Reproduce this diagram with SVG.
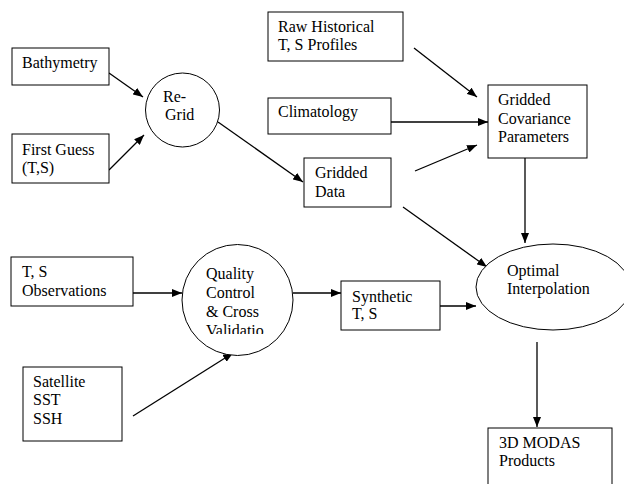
<svg xmlns="http://www.w3.org/2000/svg" width="624" height="484" viewBox="0 0 624 484">
<defs>
<style>
.box{fill:#fff;stroke:#000;stroke-width:1}
.c{stroke:#000;stroke-width:1.3;fill:none;marker-end:url(#ah)}
.t{font-family:"Liberation Serif","Times New Roman",serif;font-size:16px;fill:#000}
</style>
<marker id="ah" viewBox="0 0 10 8" refX="10" refY="4" markerWidth="10" markerHeight="8" markerUnits="userSpaceOnUse" orient="auto">
<path d="M0,0 L10,4 L0,8 Z" fill="#000"/>
</marker>
<clipPath id="qcclip"><rect x="150" y="240" width="200" height="94"/></clipPath>
</defs>
<rect width="624" height="484" fill="#fff"/>
<g id="connectors">
<line class="c" x1="109" y1="73" x2="143" y2="97"/>
<line class="c" x1="109" y1="170" x2="144" y2="135"/>
<line class="c" x1="218" y1="122" x2="303" y2="182"/>
<line class="c" x1="414" y1="48" x2="477" y2="97"/>
<line class="c" x1="391" y1="122" x2="488" y2="122"/>
<line class="c" x1="415" y1="171" x2="477" y2="145"/>
<line class="c" x1="525" y1="158" x2="525" y2="243"/>
<line class="c" x1="403" y1="207" x2="487" y2="267"/>
<line class="c" x1="133" y1="293" x2="182" y2="293"/>
<line class="c" x1="293" y1="293" x2="341" y2="293"/>
<line class="c" x1="133" y1="416" x2="233" y2="353"/>
<line class="c" x1="440" y1="306" x2="476" y2="306"/>
<line class="c" x1="537" y1="342" x2="537" y2="427"/>
</g>
<g id="bathymetry"><rect class="box" x="12" y="48" width="97" height="37"/><text class="t" x="22" y="68">Bathymetry</text></g>
<g id="first-guess"><rect class="box" x="12" y="134" width="97" height="49"/><text class="t" x="22" y="155">First Guess</text><text class="t" x="22" y="173">(T,S)</text></g>
<g id="regrid"><circle class="box" cx="182.5" cy="110" r="37"/><text class="t" x="163" y="102">Re-</text><text class="t" x="165" y="120">Grid</text></g>
<g id="raw-historical"><rect class="box" x="268" y="12" width="135" height="49"/><text class="t" x="278" y="32">Raw Historical</text><text class="t" x="278" y="50">T, S Profiles</text></g>
<g id="climatology"><rect class="box" x="268" y="98" width="123" height="36"/><text class="t" x="278" y="117">Climatology</text></g>
<g id="covariance"><rect class="box" x="488" y="85" width="99" height="73"/><text class="t" x="498" y="105">Gridded</text><text class="t" x="498" y="124">Covariance</text><text class="t" x="498" y="142">Parameters</text></g>
<g id="gridded-data"><rect class="box" x="304" y="158" width="87" height="49"/><text class="t" x="315" y="178">Gridded</text><text class="t" x="315" y="197">Data</text></g>
<g id="ts-observations"><rect class="box" x="11" y="257" width="122" height="49"/><text class="t" x="22" y="277">T, S</text><text class="t" x="22" y="296">Observations</text></g>
<g id="quality-control"><circle class="box" cx="237.5" cy="300" r="55.5"/><g clip-path="url(#qcclip)"><text class="t" x="206" y="279">Quality</text><text class="t" x="206" y="298">Control</text><text class="t" x="206" y="317">&amp; Cross</text><text class="t" x="206" y="336">Validatio</text></g></g>
<g id="satellite"><rect class="box" x="23" y="367" width="99" height="74"/><text class="t" x="33" y="387">Satellite</text><text class="t" x="33" y="405">SST</text><text class="t" x="33" y="424">SSH</text></g>
<g id="synthetic"><rect class="box" x="341" y="281" width="99" height="49"/><text class="t" x="352" y="302">Synthetic</text><text class="t" x="352" y="319">T, S</text></g>
<g id="optimal-interpolation"><ellipse class="box" cx="553" cy="287" rx="77" ry="43"/><text class="t" x="507" y="276">Optimal</text><text class="t" x="507" y="294">Interpolation</text></g>
<g id="modas-products"><rect class="box" x="488" y="428" width="124" height="70"/><text class="t" x="499" y="448">3D MODAS</text><text class="t" x="499" y="466">Products</text></g>
</svg>
